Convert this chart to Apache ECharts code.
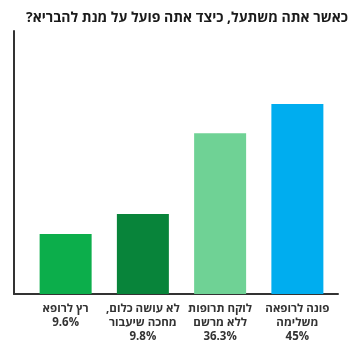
<!DOCTYPE html>
<html><head><meta charset="utf-8">
<script src="https://cdn.jsdelivr.net/npm/echarts@6/dist/echarts.min.js"></script>
<style>html,body{margin:0;padding:0;background:#fff}#c{width:360px;height:356px}</style>
</head><body><div id="c"></div>
<script>
const titleText = "כאשר אתה משתעל, כיצד אתה פועל על מנת להבריא?\u200F";
const categories = ["רץ לרופא", "לא עושה כלום,\u200F\nמחכה שיעבור", "לוקח תרופות\nללא מרשם", "פונה לרופאה\nמשלימה"];
const percentLabels = ["9.6%", "9.8%", "36.3%", "45%"];
// bar heights as drawn in the picture (axis 0-100)
const barValues = [22.8, 30.4, 61.1, 72.2];
const barColors = ["#0cae4b", "#08843a", "#6fd295", "#00adef"];

const chart = echarts.init(document.getElementById('c'), null, {renderer: 'canvas'});
const font = "'Open Sans', 'Liberation Sans', Arial, sans-serif";
chart.setOption({
  animation: false,
  title: {
    text: titleText, right: 7, top: 6,
    textStyle: {fontFamily: font, fontSize: 14, fontWeight: 'bold', color: '#1a1a1a'}
  },
  grid: [
    {left: 14, right: 22, top: 31, bottom: 62},
    {left: 27, right: 24, top: 31, bottom: 62}
  ],
  xAxis: [
    {gridIndex: 0, type: 'category', data: ['a'], axisLine: {show: true, lineStyle: {color: '#333', width: 2}}, axisTick: {show: false}, axisLabel: {show: false}},
    {gridIndex: 1, type: 'category',
      data: categories.map((c, i) => c + "\n" + percentLabels[i]),
      axisLine: {show: false}, axisTick: {show: false},
      axisLabel: {interval: 0, margin: 8, color: '#333', fontFamily: font, fontSize: 11.5, fontWeight: 'bold', lineHeight: 14}}
  ],
  yAxis: [
    {gridIndex: 0, type: 'value', min: 0, max: 100, axisLine: {show: true, lineStyle: {color: '#333', width: 2}}, axisTick: {show: false}, axisLabel: {show: false}, splitLine: {show: false}},
    {gridIndex: 1, type: 'value', min: 0, max: 100, show: false, splitLine: {show: false}}
  ],
  series: [{
    type: 'bar', xAxisIndex: 1, yAxisIndex: 1, barWidth: 52,
    data: barValues.map((v, i) => ({value: v, itemStyle: {color: barColors[i]}}))
  }]
});
</script></body></html>
